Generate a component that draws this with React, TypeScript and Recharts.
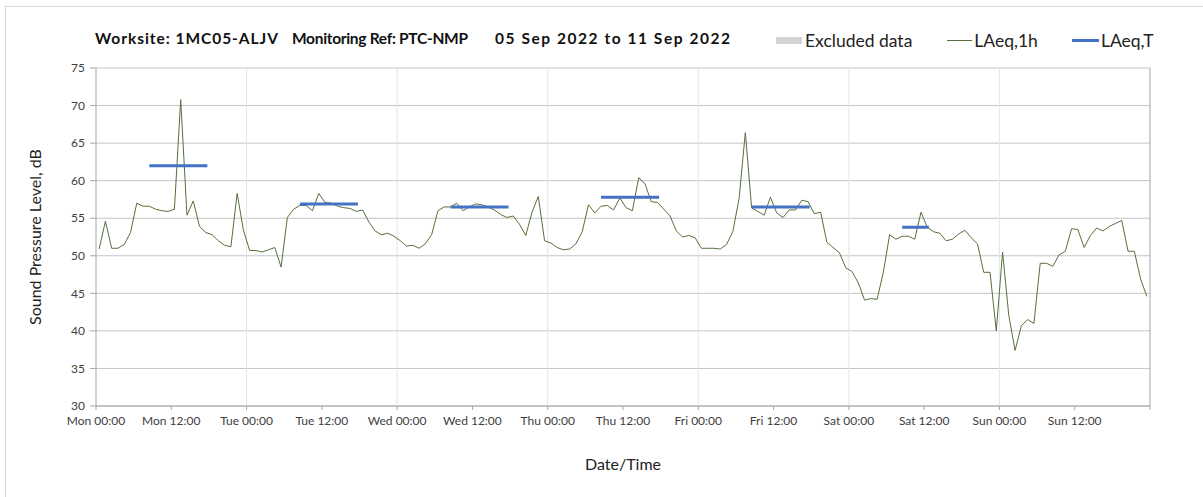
import {
  LineChart,
  Line,
  XAxis,
  YAxis,
  CartesianGrid,
  ReferenceLine
} from "recharts"

// hourly LAeq,1h (dB), one array per day, 00:00 to 23:00
const monLevels = [50.9, 54.6, 51.0, 51.0, 51.5, 53.1, 57.0, 56.6, 56.6, 56.2, 56.0, 55.9, 56.2, 70.8, 55.4, 57.3, 53.9, 53.1, 52.8, 52.0, 51.4, 51.2, 58.3, 53.4]
const tueLevels = [50.7, 50.7, 50.5, 50.8, 51.1, 48.5, 55.1, 56.2, 56.7, 56.7, 56.0, 58.3, 57.1, 57.0, 56.6, 56.4, 56.3, 55.9, 56.1, 54.5, 53.3, 52.8, 53.0, 52.6]
const wedLevels = [52.0, 51.3, 51.4, 51.0, 51.6, 52.8, 56.0, 56.5, 56.5, 57.0, 56.0, 56.5, 56.9, 56.8, 56.5, 56.1, 55.5, 55.1, 55.3, 54.2, 52.7, 55.8, 57.9, 52.0]
const thuLevels = [51.7, 51.1, 50.8, 50.9, 51.6, 53.2, 56.8, 55.7, 56.6, 56.7, 56.1, 57.7, 56.4, 56.0, 60.4, 59.6, 57.2, 57.1, 56.2, 55.3, 53.3, 52.5, 52.7, 52.4]
const friLevels = [51.0, 51.0, 51.0, 50.9, 51.5, 53.2, 57.6, 66.4, 56.4, 55.9, 55.4, 57.8, 55.7, 55.1, 56.1, 56.1, 57.4, 57.2, 55.6, 55.8, 51.8, 51.1, 50.4, 48.4]
const satLevels = [47.9, 46.4, 44.1, 44.3, 44.2, 47.8, 52.8, 52.2, 52.6, 52.6, 52.2, 55.8, 53.8, 53.2, 53.0, 52.0, 52.2, 52.9, 53.4, 52.4, 51.6, 47.8, 47.8, 40.0]
const sunLevels = [50.5, 42.0, 37.4, 40.7, 41.5, 41.0, 49.0, 49.0, 48.6, 50.1, 50.6, 53.6, 53.5, 51.1, 52.7, 53.7, 53.3, 53.9, 54.3, 54.7, 50.6, 50.6, 46.9, 44.6]

// LAeq,T per day (Mon..Sat), with period start/end hour of day
const laeqTValues = [62.0, 56.9, 56.5, 57.8, 56.5, 53.8]
const laeqTStart = [8.5, 8.5, 8.5, 8.5, 8.5, 8.5]
const laeqTEnd = [17.75, 17.75, 17.75, 17.75, 17.75, 12.75]

const tickLabels = [
  "Mon 00:00", "Mon 12:00", "Tue 00:00", "Tue 12:00", "Wed 00:00", "Wed 12:00",
  "Thu 00:00", "Thu 12:00", "Fri 00:00", "Fri 12:00", "Sat 00:00", "Sat 12:00",
  "Sun 00:00", "Sun 12:00", ""
]
const yTicks = [30, 35, 40, 45, 50, 55, 60, 65, 70, 75]

const titleParts = ["Worksite: 1MC05-ALJV", "Monitoring Ref: PTC-NMP", "05 Sep 2022 to 11 Sep 2022"]

const days = [monLevels, tueLevels, wedLevels, thuLevels, friLevels, satLevels, sunLevels]

const hourlyData = days.flat().map((v, i) => ({ t: i + 0.5, v }))

const laeqTData = laeqTValues.flatMap((v, d) => [
  { t: d * 24 + laeqTStart[d], v },
  { t: d * 24 + laeqTEnd[d], v },
  { t: d * 24 + laeqTEnd[d] + 0.01, v: null }
])

const xTicks = tickLabels.map((_, i) => i * 12)
const dayLines = [24, 48, 72, 96, 120, 144]

const font = "Lato, 'Open Sans', sans-serif"
const tickStyle = { fontSize: 12, fill: "#404040", fontFamily: font }

// title layout: left x and width of each part
const titleX = [95, 292, 495]
const titleW = [183, 176, 235]

export default function App() {
  return (
    <div style={{ position: "relative", width: 1203, height: 497, overflow: "hidden", background: "#fff" }}>
      <style>{"body{margin:0}"}</style>
      <div
        style={{
          position: "absolute",
          left: 5,
          top: 6,
          width: 1220,
          height: 520,
          borderLeft: "1px solid #d9d9d9",
          borderTop: "1px solid #d9d9d9"
        }}
      />

      <svg width={760} height={60} style={{ position: "absolute", left: 0, top: 0 }}>
        {titleParts.map((s, i) => (
          <text
            key={s}
            x={titleX[i]}
            y={44}
            textLength={titleW[i]}
            lengthAdjust="spacing"
            fontFamily={font}
            fontWeight={700}
            fontSize={15.5}
            fill="#111"
          >
            {s}
          </text>
        ))}
      </svg>

      <div
        style={{
          position: "absolute",
          left: 776,
          top: 30,
          display: "flex",
          alignItems: "center",
          fontFamily: font,
          fontSize: 17.5,
          color: "#222",
          whiteSpace: "pre"
        }}
      >
        <span style={{ width: 26, height: 7, background: "#d4d4d4", marginRight: 3 }} />
        <span>Excluded data</span>
        <span style={{ width: 25, height: 1, background: "#56703a", marginLeft: 35, marginRight: 2 }} />
        <span>LAeq,1h</span>
        <span style={{ width: 27, height: 3, background: "#4472c4", marginLeft: 34, marginRight: 2 }} />
        <span>LAeq,T</span>
      </div>

      <LineChart
        width={1203}
        height={497}
        margin={{ top: 68, right: 53, bottom: 21, left: 20 }}
        style={{ position: "absolute", left: 0, top: 0 }}
      >
        <CartesianGrid vertical={false} stroke="#c4c4c4" />
        <CartesianGrid
          horizontal={false}
          stroke="#e4e4e4"
          verticalCoordinatesGenerator={({ offset }: any) =>
            dayLines.map(t => offset.left + (t / 168) * offset.width)
          }
        />
        <ReferenceLine x={168} stroke="#a6a6a6" />
        <XAxis
          dataKey="t"
          type="number"
          domain={[0, 168]}
          ticks={xTicks}
          interval={0}
          tickFormatter={(t: number) => tickLabels[t / 12]}
          tick={tickStyle}
          tickLine={{ stroke: "#a6a6a6" }}
          tickSize={4}
          tickMargin={6}
          axisLine={{ stroke: "#a6a6a6" }}
          height={70}
          allowDataOverflow
          label={{
            value: "Date/Time",
            position: "insideBottom",
            offset: 6,
            style: { fontFamily: font, fontSize: 16, fill: "#222" }
          }}
        />
        <YAxis
          type="number"
          domain={[30, 75]}
          ticks={yTicks}
          interval={0}
          tick={tickStyle}
          tickLine={{ stroke: "#a6a6a6" }}
          tickSize={6}
          tickMargin={5}
          axisLine={{ stroke: "#a6a6a6" }}
          width={76}
          label={{
            value: "Sound Pressure Level, dB",
            angle: -90,
            position: "insideLeft",
            offset: 15,
            style: { textAnchor: "middle", fontFamily: font, fontSize: 16, fill: "#222" }
          }}
        />
        <Line
          data={hourlyData}
          dataKey="v"
          type="linear"
          stroke="#56703a"
          strokeWidth={1}
          dot={false}
          isAnimationActive={false}
        />
        <Line
          data={laeqTData}
          dataKey="v"
          type="linear"
          stroke="#4472c4"
          strokeWidth={3}
          dot={false}
          connectNulls={false}
          isAnimationActive={false}
        />
      </LineChart>
    </div>
  )
}
